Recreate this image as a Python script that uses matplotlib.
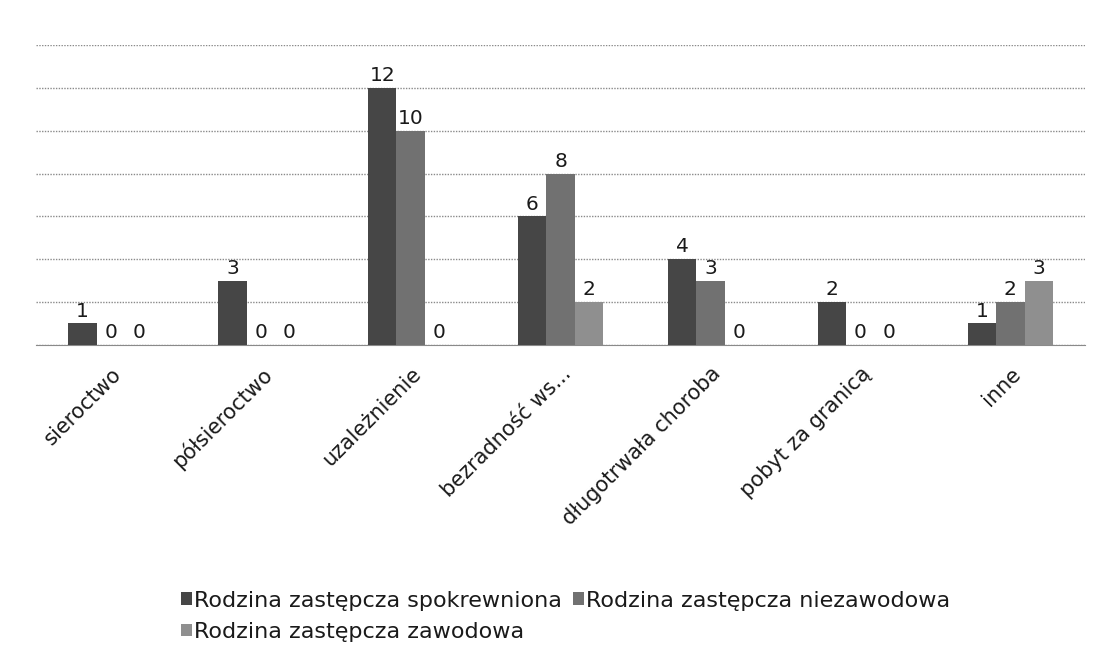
import matplotlib.pyplot as plt
import numpy as np

# ---------- data ----------
categories = ["sieroctwo", "półsieroctwo", "uzależnienie", "bezradność ws...",
              "długotrwała choroba", "pobyt za granicą", "inne"]
series_names = ["Rodzina zastępcza spokrewniona",
                "Rodzina zastępcza niezawodowa",
                "Rodzina zastępcza zawodowa"]
spokrewniona = [1, 3, 12, 6, 4, 2, 1]
niezawodowa = [0, 0, 10, 8, 3, 0, 2]
zawodowa = [0, 0, 0, 2, 0, 0, 3]

colors = ["#464646", "#717171", "#8f8f8f"]

plt.rcParams['font.family'] = ['DejaVu Sans']

fig = plt.figure(figsize=(11.01, 6.62), dpi=100)
ax = fig.add_axes([0.0327, 0.479, 0.953, 0.453])

x = np.arange(len(categories))
width = 0.19
handles = []
for i, (vals, name) in enumerate(zip([spokrewniona, niezawodowa, zawodowa], series_names)):
    bars = ax.bar(x + (i - 1) * width, vals, width, color=colors[i], label=name, zorder=3)
    ax.bar_label(bars, padding=2, fontsize=14.5, color="#1a1a1a")
    handles.append(bars)

ax.set_xlim(-0.5, len(categories) - 0.5)
ax.set_ylim(0, 14)
ax.set_yticks(range(0, 15, 2))
ax.yaxis.grid(True, color="#8a8a8a", linestyle=(0, (1, 1)), linewidth=1, zorder=0)
ax.tick_params(axis='y', left=False, labelleft=False)
ax.tick_params(axis='x', bottom=False, pad=10)
for s in ["top", "right", "left"]:
    ax.spines[s].set_visible(False)
ax.spines["bottom"].set_color("#8a8a8a")
ax.spines["bottom"].set_linestyle((0, (1, 1)))

ax.set_xticks(x)
ax.set_xticklabels(categories, rotation=45, ha='right', rotation_mode='anchor',
                   fontsize=15, color="#1a1a1a")

# legend: row1 -> entries 1,2 ; row2 -> entry 3
fig.legend([handles[0], handles[2], handles[1]],
           [series_names[0], series_names[2], series_names[1]],
           ncol=2, loc='upper left', bbox_to_anchor=(0.146, 0.138),
           frameon=False, fontsize=16, handlelength=0.5, handleheight=0.5,
           handletextpad=0.1, columnspacing=0.5, labelspacing=0.5,
           labelcolor="#1a1a1a")

fig.savefig("out.png", dpi=100)
